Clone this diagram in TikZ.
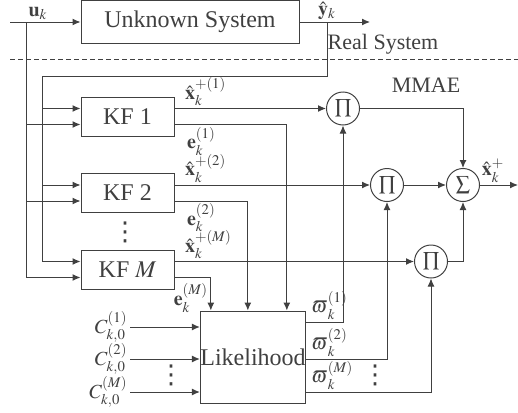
\documentclass[tikz,border=0pt]{standalone}
\usepackage{mathptmx}
\usepackage{fontspec}
\setmainfont{Liberation Serif}
\newfontfamily\dotsfont{DejaVu Sans}
\usetikzlibrary{arrows.meta,calc}
\colorlet{wire}{black!75}

\tikzset{
  block/.style={draw=wire, inner sep=0pt, font=\fontsize{12}{14}\selectfont},
  kfbox/.style={block, minimum width=46.5pt, minimum height=19.5pt},
  opnode/.style={draw=wire, circle, minimum size=16.5pt, inner sep=0pt},
  sig/.style={-{Latex[length=4pt,width=3.5pt]}},
  lbl/.style={inner sep=1pt, text=wire},
  vdotsnode/.style={inner sep=0pt, text=wire, font=\dotsfont\fontsize{13}{13}\selectfont},
  caption/.style={text=wire, font=\fontsize{11}{13}\selectfont}
}

\begin{document}
\begin{tikzpicture}[x=0.5pt, y=-0.5pt, line width=0.5pt, color=wire]
  \useasboundingbox (0,0) rectangle (518,412);

  % real system
  \node[block, minimum width=109pt, minimum height=21.5pt] (sys) at (190,22) {Unknown System};
  \coordinate (uin)  at (10,22);
  \coordinate (ub)   at (26,22);
  \coordinate (yb)   at (327,22);
  \coordinate (yout) at (370,22);
  \coordinate (fb)   at (42,76);
  \draw[sig] (uin) -- (sys);
  \draw[sig] (sys) -- (yout);
  \node[lbl, anchor=south west] at (ub) {$\mathbf{u}_k$};
  \node[lbl, anchor=south] at (yb) {$\hat{\mathbf{y}}_k$};
  \node[caption] at (383,44) {Real System};
  \draw[dash pattern=on 2.5pt off 1.5pt] (10,59) -- (518,59);
  \node[caption] at (426,85) {MMAE};

  % filter bank
  \node[kfbox] (kf1) at (127.5,116.5) {KF 1};
  \node[kfbox] (kf2) at (127.5,193)   {KF 2};
  \node[kfbox] (kfm) at (127.5,269.5) {KF $M$};
  \node[vdotsnode] (kfdots) at (125,232) {⋮};

  \draw (yb) |- (fb);
  \foreach \kf in {kf1,kf2,kfm} {
    \draw[sig] (fb) |- ($(\kf.west)+(0,-8)$);
    \draw[sig] (ub) |- ($(\kf.west)+(0,8)$);
  }

  % products and sum
  \node[opnode] (p1)  at (343,108.5) {$\prod$};
  \node[opnode] (p2)  at (387,185)   {$\prod$};
  \node[opnode] (p3)  at (431,261.5) {$\prod$};
  \node[opnode] (sum) at (463,185)   {$\sum$};
  \coordinate (xout) at (518,185);

  \draw[sig] ($(kf1.east)+(0,-8)$) node[lbl, anchor=south west, xshift=4pt] {$\hat{\mathbf{x}}_k^{+(1)}$} -- (p1);
  \draw[sig] ($(kf2.east)+(0,-8)$) node[lbl, anchor=south west, xshift=4pt] {$\hat{\mathbf{x}}_k^{+(2)}$} -- (p2);
  \draw[sig] ($(kfm.east)+(0,-8)$) node[lbl, anchor=south west, xshift=4pt] {$\hat{\mathbf{x}}_k^{+(M)}$} -- (p3);

  % likelihood
  \node[block, minimum width=52pt, minimum height=46pt] (lik) at (253,357) {Likelihood};

  \draw[sig] ($(kf1.east)+(0,8)$) node[lbl, anchor=north west, xshift=5pt] {$\mathbf{e}_k^{(1)}$} -| ($(lik.north west)+(87,0)$);
  \draw[sig] ($(kf2.east)+(0,8)$) node[lbl, anchor=north west, xshift=5pt] {$\mathbf{e}_k^{(2)}$} -| ($(lik.north west)+(48,0)$);
  \draw[sig] ($(kfm.east)+(0,8)$) -| ($(lik.north west)+(11,0)$);
  \node[lbl] at (191,298) {$\mathbf{e}_k^{(M)}$};

  \node[lbl, anchor=east] (c1) at (130,327) {$C_{k,0}^{(1)}$};
  \node[lbl, anchor=east] (c2) at (130,359) {$C_{k,0}^{(2)}$};
  \node[lbl, anchor=east] (cm) at (130,392) {$C_{k,0}^{(M)}$};
  \foreach \c in {c1,c2,cm}
    \draw[sig] (\c) -- (\c -| lik.west);
  \node[vdotsnode] (cdots) at (171,375) {⋮};

  \draw[sig] ($(lik.east)+(0,-35)$) node[lbl, anchor=south west, xshift=1.5pt] {$\varpi{}_k^{(1)}$} -| (p1);
  \draw[sig] ($(lik.east)+(0,2)$)   node[lbl, anchor=south west, xshift=1.5pt] {$\varpi{}_k^{(2)}$} -| (p2);
  \draw[sig] ($(lik.east)+(0,35)$)  node[lbl, anchor=south west, xshift=1.5pt] {$\varpi{}_k^{(M)}$} -| (p3);
  \node[vdotsnode] (wdots) at (375,375) {⋮};

  \draw[sig] (p1) -| (sum);
  \draw[sig] (p2) -- (sum);
  \draw[sig] (p3) -| (sum);
  \draw[sig] (sum) -- node[lbl, above, xshift=-3pt] {$\hat{\mathbf{x}}_k^+$} (xout);
\end{tikzpicture}
\end{document}
